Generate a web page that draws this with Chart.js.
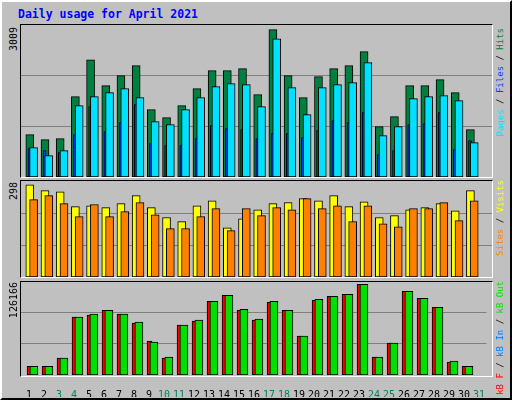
<!DOCTYPE html>
<html><head><meta charset="utf-8">
<script src="https://cdn.jsdelivr.net/npm/chart.js@4"></script>
<style>
html,body{margin:0;padding:0;background:#c0c0c0;}
#wrap{position:absolute;left:0;top:0;width:508px;height:396px;background:#c0c0c0;border-top:2px solid #fff;border-left:2px solid #fff;border-right:2px solid #000;border-bottom:2px solid #000;font-family:"DejaVu Sans Mono",monospace;}
.panel{position:absolute;left:18px;width:471px;border-top:1px solid #000;border-left:1px solid #000;border-right:1px solid #fff;border-bottom:1px solid #fff;}
.lab{position:absolute;writing-mode:vertical-rl;transform:rotate(180deg);font-size:10px;white-space:nowrap;}
#title{position:absolute;left:16px;top:5px;color:#0000ff;font-weight:bold;font-size:11.5px;}
canvas{display:block;}
</style></head><body>
<div id="wrap">
<div id="title">Daily usage for April 2021</div>
<div class="panel" style="top:22px;height:152px"><canvas id="c1"></canvas></div>
<div class="panel" style="top:178px;height:96px"><canvas id="c2"></canvas></div>
<div class="panel" style="top:279px;height:116px;border:none;"><canvas id="c3"></canvas></div>
<div class="panel" style="top:279px;height:94px;background:transparent;pointer-events:none"></div>
<div class="lab" style="left:6px;top:25px">3009</div>
<div class="lab" style="left:6px;top:180px">298</div>
<div class="lab" style="left:6px;top:280px">126166</div>
<div class="lab" style="left:493px;top:26px;font-size:9px"><span style="color:#00e0ff">Pages</span> / <span style="color:#0040ff">Files</span> / <span style="color:#008040">Hits</span></div>
<div class="lab" style="left:493px;top:178px;font-size:9px"><span style="color:#ff8000">Sites</span> / <span style="color:#ffff00">Visits</span></div>
<div class="lab" style="left:493px;top:279px;font-size:9px"><span style="color:#ff0000">kB F</span> / <span style="color:#0080ff">kB In</span> / <span style="color:#00e000">kB Out</span></div>
</div>
<script>
const days=[1,2,3,4,5,6,7,8,9,10,11,12,13,14,15,16,17,18,19,20,21,22,23,24,25,26,27,28,29,30,31];
const weekend=[3,4,10,11,17,18,24,25,31];
const hits=[865,762,783,1641,2396,1865,2070,2274,1375,1212,1457,1804,2172,2172,2213,1682,3009,2070,1620,2049,2213,2274,2560,1028,1232,1865,1865,1988,1722,967,0];
const files=[599,436,538,1457,1641,1722,1804,1620,1130,1069,1375,1620,1845,1906,1886,1436,2825,1825,1273,1825,1886,1927,2335,844,1028,1600,1641,1661,1559,701,0];
const pages=[579,538,497,865,1436,926,1110,1477,681,640,640,783,1048,987,967,783,885,885,803,946,1151,1110,1314,456,538,1069,1089,1314,558,742,0];
const visits=[298,279,275,227,230,224,237,263,224,192,179,230,246,159,188,217,237,240,253,246,263,227,243,192,198,217,224,237,214,279,0];
const sites=[250,263,237,195,234,195,211,240,201,156,156,195,221,150,221,198,224,217,253,221,230,179,230,172,162,221,221,240,182,246,0];
const kbF=[12015,12015,23567,80405,83178,90110,84564,72088,47134,23567,69315,74860,102586,110904,90110,76247,101200,90110,54066,103973,109518,112290,126166,24953,44362,116449,106745,94268,18022,12015,0];
const kbIn=[600,600,600,600,600,600,600,600,600,600,600,600,600,600,600,600,600,600,600,600,600,600,600,600,600,600,600,600,600,600,0];
const kbOut=[12015,12015,23567,80405,84564,90110,84564,73474,45748,24953,69315,76247,102586,110904,91496,77633,102586,90110,54066,105359,109518,112290,126166,24953,44362,116449,106745,94268,19408,12015,0];
const SLOT=471/31;
function ds(vals,color,offPx,width){
  return {data:days.map((d,i)=>({x:d+offPx/SLOT,y:vals[i]})),backgroundColor:color,borderColor:'#000',borderWidth:1,borderSkipped:false,barThickness:width,grouped:false};
}
function mk(id,sets,ymax,showX){
  new Chart(document.getElementById(id),{type:'bar',data:{datasets:sets},
  options:{responsive:true,maintainAspectRatio:false,animation:false,events:[],
    layout:{padding:0},
    plugins:{legend:{display:false},tooltip:{enabled:false}},
    scales:{
      x:{type:'linear',min:0.5,max:31.5,display:showX,offset:false,
        grid:{display:false},border:{display:false},
        afterBuildTicks:s=>{s.ticks=days.map(v=>({value:v}));},
        afterFit:s=>{if(showX)s.height=22;},
        ticks:{autoSkip:false,maxRotation:0,padding:6,font:{family:'DejaVu Sans Mono',size:10},
          color:c=>weekend.includes(days[c.index])?'#008060':'#000',
          callback:(v,i)=>String(days[i])}},
      y:{min:0,max:ymax,display:true,border:{display:false},
        afterFit:s=>{s.width=0;},
        afterBuildTicks:s=>{s.ticks=[{value:ymax/3},{value:2*ymax/3}];},
        grid:{color:'#808080',drawTicks:false,lineWidth:1},
        ticks:{display:false}}
    }}});
}
mk('c1',[ds(files,'#00e0ff',5,8),ds(pages,'#0040ff',0.8,3),ds(hits,'#008040',1.2,8)],3105,false);
mk('c2',[ds(sites,'#ff8000',5,8),ds(visits,'#ffff00',1.2,8)],310,false);
mk('c3',[ds(kbOut,'#00e000',5,8),ds(kbIn,'#0080ff',0.8,3),ds(kbF,'#ff0000',0.6,5)],130740,true);
</script>
</body></html>
